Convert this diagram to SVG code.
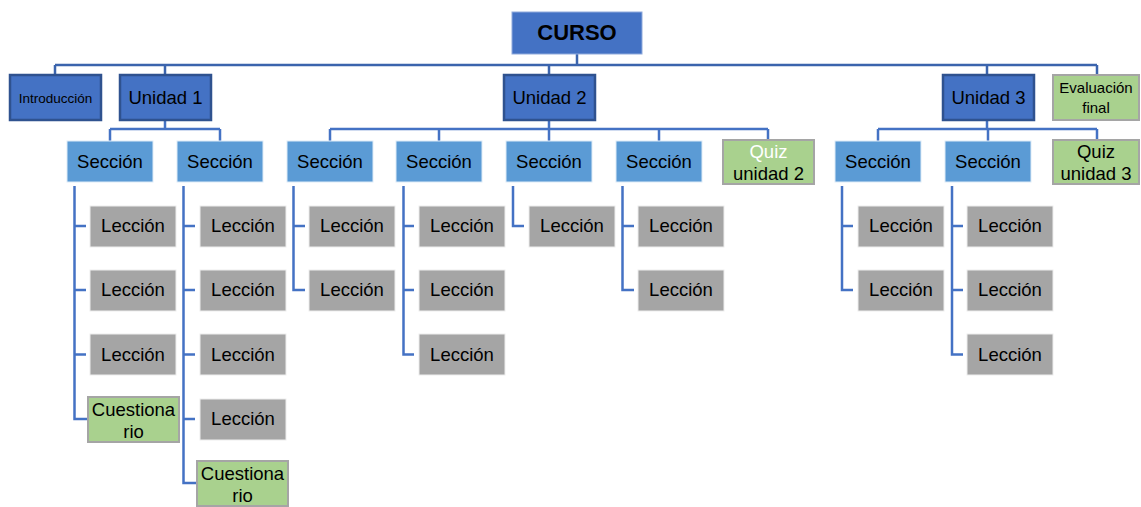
<svg xmlns="http://www.w3.org/2000/svg" width="1141" height="507" viewBox="0 0 1141 507">
<style>
text{font-family:"Liberation Sans",Arial,sans-serif;text-anchor:middle;fill:#000}
.unit{fill:#4472C4;stroke:#2F528F;stroke-width:2.5}
.curso{fill:#4472C4;stroke:#8FAADC;stroke-width:1}
.sec{fill:#5B9BD5;stroke:#DEEBF7;stroke-width:1}
.lec{fill:#A5A5A5;stroke:#EDEDED;stroke-width:1}
.grn{fill:#A9D18E;stroke:#A5A5A5;stroke-width:2}
.t18{font-size:18.5px}
.t15{font-size:15px}
#connectors path{fill:none;stroke:#4472C4;stroke-width:2.5}
</style>
<g id="connectors">
<path d="M577 54V65M55 65H1097M55 65V74M165 65V74M549 65V74M987 65V74M1097 65V74" style="stroke:#3B64AD"/>
<path d="M165 121V129M110 129H220M110 129V141M220 129V141"/>
<path d="M549 121V129M330 129H768M330 129V141M439 129V141M549 129V141M659 129V141M768 129V139"/>
<path d="M987 121V129M878 129H1097M878 129V141M988 129V141M1097 129V139"/>
<path d="M74.5 186V419H87M74.5 226H86M74.5 290H86M74.5 354.5H86"/>
<path d="M183.5 186V483H197M183.5 226H195M183.5 290H195M183.5 354.5H195M183.5 419H195"/>
<path d="M293.5 186V290H305M293.5 226H305"/>
<path d="M403.5 186V354.5H414M403.5 226H414M403.5 290H414"/>
<path d="M513 186V226H524"/>
<path d="M622.5 186V290H634M622.5 226H634"/>
<path d="M842 186V290H853M842 226H853"/>
<path d="M952 186V354.5H963M952 226H963M952 290H963"/>
</g>
<g id="curso"><rect class="curso" x="512" y="12" width="130" height="42"/><text x="577" y="40" style="font-size:22px;font-weight:bold">CURSO</text></g>
<g id="intro"><rect class="unit" x="10" y="75" width="91" height="45"/><text x="55.5" y="103" style="font-size:13.5px">Introducción</text></g>
<g id="unidad1"><rect class="unit" x="120" y="75" width="91" height="45"/><text class="t18" x="165.5" y="104">Unidad 1</text></g>
<g id="unidad2"><rect class="unit" x="504" y="75" width="91" height="45"/><text class="t18" x="549.5" y="104">Unidad 2</text></g>
<g id="unidad3"><rect class="unit" x="943" y="75" width="91" height="45"/><text class="t18" x="988.5" y="104">Unidad 3</text></g>
<g id="evaluacion"><rect class="grn" x="1053" y="75" width="86" height="45"/><text class="t15" x="1096" y="93">Evaluación</text><text class="t15" x="1096" y="113">final</text></g>
<g id="sec1"><rect class="sec" x="67" y="141" width="86" height="41"/><text class="t18" x="110" y="168">Sección</text></g>
<g id="sec2"><rect class="sec" x="177" y="141" width="86" height="41"/><text class="t18" x="220" y="168">Sección</text></g>
<g id="sec3"><rect class="sec" x="287" y="141" width="86" height="41"/><text class="t18" x="330" y="168">Sección</text></g>
<g id="sec4"><rect class="sec" x="396" y="141" width="86" height="41"/><text class="t18" x="439" y="168">Sección</text></g>
<g id="sec5"><rect class="sec" x="506" y="141" width="86" height="41"/><text class="t18" x="549" y="168">Sección</text></g>
<g id="sec6"><rect class="sec" x="616" y="141" width="86" height="41"/><text class="t18" x="659" y="168">Sección</text></g>
<g id="quiz2"><rect class="grn" x="723" y="140" width="91" height="44"/><text class="t18" x="768.5" y="158" style="fill:#fff">Quiz</text><text class="t18" x="768.5" y="180">unidad 2</text></g>
<g id="sec7"><rect class="sec" x="835" y="141" width="86" height="41"/><text class="t18" x="878" y="168">Sección</text></g>
<g id="sec8"><rect class="sec" x="945" y="141" width="86" height="41"/><text class="t18" x="988" y="168">Sección</text></g>
<g id="quiz3"><rect class="grn" x="1053" y="140" width="86" height="44"/><text class="t18" x="1096" y="158">Quiz</text><text class="t18" x="1096" y="180">unidad 3</text></g>
<g id="l1a"><rect class="lec" x="90" y="206" width="86" height="41"/><text class="t18" x="133" y="232">Lección</text></g>
<g id="l1b"><rect class="lec" x="90" y="270" width="86" height="41"/><text class="t18" x="133" y="296">Lección</text></g>
<g id="l1c"><rect class="lec" x="90" y="334" width="86" height="41"/><text class="t18" x="133" y="361">Lección</text></g>
<g id="cuest1"><rect class="grn" x="88" y="397" width="91" height="45"/><text class="t18" x="133.5" y="416">Cuestiona</text><text class="t18" x="133.5" y="438">rio</text></g>
<g id="l2a"><rect class="lec" x="200" y="206" width="86" height="41"/><text class="t18" x="243" y="232">Lección</text></g>
<g id="l2b"><rect class="lec" x="200" y="270" width="86" height="41"/><text class="t18" x="243" y="296">Lección</text></g>
<g id="l2c"><rect class="lec" x="200" y="334" width="86" height="41"/><text class="t18" x="243" y="361">Lección</text></g>
<g id="l2d"><rect class="lec" x="200" y="399" width="86" height="41"/><text class="t18" x="243" y="425">Lección</text></g>
<g id="cuest2"><rect class="grn" x="197" y="461" width="91" height="45"/><text class="t18" x="242.5" y="480">Cuestiona</text><text class="t18" x="242.5" y="502">rio</text></g>
<g id="l3a"><rect class="lec" x="309" y="206" width="86" height="41"/><text class="t18" x="352" y="232">Lección</text></g>
<g id="l3b"><rect class="lec" x="309" y="270" width="86" height="41"/><text class="t18" x="352" y="296">Lección</text></g>
<g id="l4a"><rect class="lec" x="419" y="206" width="86" height="41"/><text class="t18" x="462" y="232">Lección</text></g>
<g id="l4b"><rect class="lec" x="419" y="270" width="86" height="41"/><text class="t18" x="462" y="296">Lección</text></g>
<g id="l4c"><rect class="lec" x="419" y="334" width="86" height="41"/><text class="t18" x="462" y="361">Lección</text></g>
<g id="l5a"><rect class="lec" x="529" y="206" width="86" height="41"/><text class="t18" x="572" y="232">Lección</text></g>
<g id="l6a"><rect class="lec" x="638" y="206" width="86" height="41"/><text class="t18" x="681" y="232">Lección</text></g>
<g id="l6b"><rect class="lec" x="638" y="270" width="86" height="41"/><text class="t18" x="681" y="296">Lección</text></g>
<g id="l7a"><rect class="lec" x="858" y="206" width="86" height="41"/><text class="t18" x="901" y="232">Lección</text></g>
<g id="l7b"><rect class="lec" x="858" y="270" width="86" height="41"/><text class="t18" x="901" y="296">Lección</text></g>
<g id="l8a"><rect class="lec" x="967" y="206" width="86" height="41"/><text class="t18" x="1010" y="232">Lección</text></g>
<g id="l8b"><rect class="lec" x="967" y="270" width="86" height="41"/><text class="t18" x="1010" y="296">Lección</text></g>
<g id="l8c"><rect class="lec" x="967" y="334" width="86" height="41"/><text class="t18" x="1010" y="361">Lección</text></g>
</svg>
